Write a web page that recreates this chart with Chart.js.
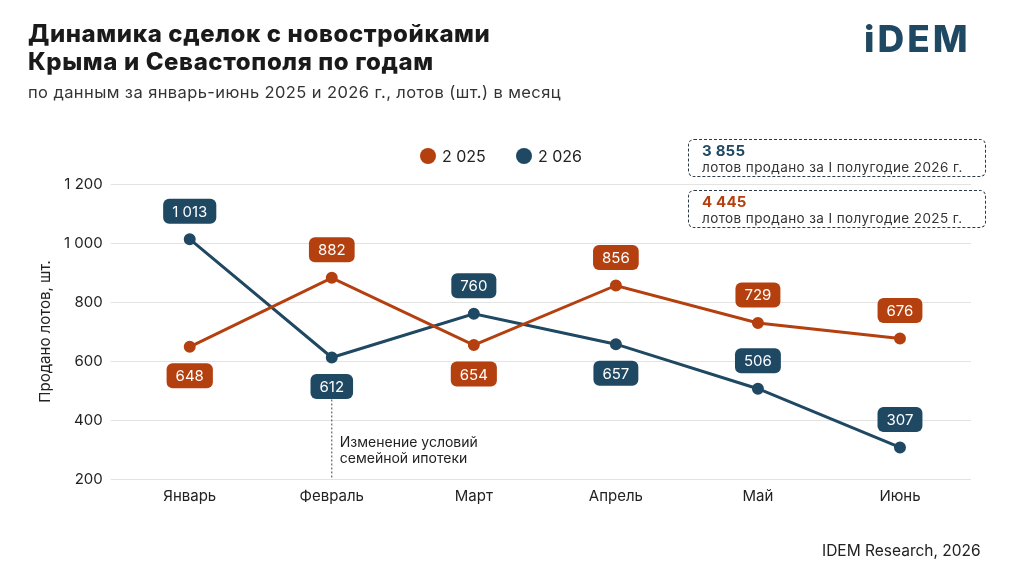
<!DOCTYPE html>
<html>
<head>
<meta charset="utf-8">
<script src="https://cdn.jsdelivr.net/npm/chart.js@4"></script>
<style>
  body { margin: 0; width: 1024px; height: 576px; background: #fff; font-family: Inter, "Noto Sans", sans-serif; position: relative; overflow: hidden; }
  #wrap { position: absolute; left: 0; top: 0; width: 1024px; height: 576px; }
  .t { position: absolute; color: #1a1a1a; white-space: nowrap; }
  .box { position: absolute; left: 688px; width: 298px; height: 38px; border: 1.5px dashed #2b3a45; border-radius: 6px; box-sizing: border-box; padding: 3px 0 0 13px; font-size: 13.5px; letter-spacing: 0.4px; color: #333; line-height: 16px; }
  .box b { font-size: 15px; display: block; letter-spacing: 0.2px; }
  .leg { position: absolute; top: 146px; font-size: 16px; color: #222; }
  .leg i { display: inline-block; width: 16px; height: 16px; border-radius: 50%; vertical-align: -2px; margin-right: 6px; }
</style>
</head>
<body>
<div id="wrap"><canvas id="chart" width="1024" height="576"></canvas></div>
<div class="t" style="left:28px;top:20px;font-size:24px;font-weight:800;line-height:28px;letter-spacing:0.6px;">Динамика сделок с новостройками<br>Крыма и Севастополя по годам</div>
<div class="t" style="left:28px;top:82px;font-size:16.5px;color:#333;letter-spacing:0.4px;">по данным за январь-июнь 2025 и 2026 г., лотов (шт.) в месяц</div>
<div class="t" style="left:864px;top:16px;font-size:37px;font-weight:800;color:#1f4863;letter-spacing:3px;">iDEM</div>
<div class="leg" style="left:420px;"><i style="background:#b5400f"></i>2 025</div>
<div class="leg" style="left:516px;"><i style="background:#1f4863"></i>2 026</div>
<div class="box" style="top:139px;"><b style="color:#1f4863">3 855</b>лотов продано за I полугодие 2026 г.</div>
<div class="box" style="top:190px;"><b style="color:#b5400f">4 445</b>лотов продано за I полугодие 2025 г.</div>
<div class="t" style="left:822px;top:541px;font-size:15.5px;color:#222;">IDEM Research, 2026</div>
<script>
const months = ['Январь', 'Февраль', 'Март', 'Апрель', 'Май', 'Июнь'];
const sales2025 = [648, 882, 654, 856, 729, 676];
const sales2026 = [1013, 612, 760, 657, 506, 307];
const labelPos2025 = ['below', 'above', 'below', 'above', 'above', 'above'];
const labelPos2026 = ['above', 'below', 'above', 'below', 'above', 'above'];
const yTicks = [200, 400, 600, 800, 1000, 1200];

const fmt = v => v.toLocaleString('ru-RU').replace(/\s/g, ' ');

const valueLabels = {
  id: 'valueLabels',
  afterDatasetsDraw(chart) {
    const ctx = chart.ctx;
    const x = chart.scales.x, y = chart.scales.y;
    // dotted marker at February
    const fx = x.getPixelForValue(1);
    const fy = y.getPixelForValue(sales2026[1]);
    ctx.save();
    ctx.strokeStyle = '#444'; ctx.lineWidth = 1; ctx.setLineDash([2, 2]);
    ctx.beginPath(); ctx.moveTo(fx, fy + 42); ctx.lineTo(fx, y.bottom); ctx.stroke();
    ctx.setLineDash([]);
    ctx.fillStyle = '#222'; ctx.font = '14px Inter, sans-serif'; ctx.textAlign = 'left'; ctx.textBaseline = 'alphabetic';
    ctx.fillText('Изменение условий', fx + 8, fy + 90);
    ctx.fillText('семейной ипотеки', fx + 8, fy + 106);
    const sets = [[sales2025, labelPos2025, '#b5400f'], [sales2026, labelPos2026, '#1f4863']];
    ctx.font = '15px Inter, sans-serif'; ctx.textAlign = 'center'; ctx.textBaseline = 'middle';
    sets.forEach(([vals, pos, col]) => {
      vals.forEach((v, i) => {
        const px = x.getPixelForValue(i);
        const py = y.getPixelForValue(v) + (pos[i] === 'above' ? -28 : 29);
        const t = fmt(v);
        const w = ctx.measureText(t).width + 18, h = 25;
        ctx.fillStyle = col;
        ctx.beginPath(); ctx.roundRect(px - w / 2, py - h / 2, w, h, 6); ctx.fill();
        ctx.fillStyle = '#fff'; ctx.fillText(t, px, py + 1);
      });
    });
    ctx.restore();
  }
};

new Chart(document.getElementById('chart'), {
  type: 'line',
  data: {
    labels: months,
    datasets: [
      { label: '2 025', data: sales2025, borderColor: '#b5400f', backgroundColor: '#b5400f', borderWidth: 3, pointRadius: 4.5 },
      { label: '2 026', data: sales2026, borderColor: '#1f4863', backgroundColor: '#1f4863', borderWidth: 3, pointRadius: 4.5 }
    ]
  },
  options: {
    responsive: false,
    animation: false,
    layout: { padding: { top: 184, left: 36, right: 53, bottom: 71 } },
    plugins: { legend: { display: false }, tooltip: { enabled: false } },
    scales: {
      x: {
        offset: true,
        grid: { display: false },
        border: { display: false },
        ticks: { color: '#222', font: { size: 15, family: 'Inter' }, padding: 0 }
      },
      y: {
        min: 200, max: 1200,
        afterBuildTicks: s => { s.ticks = yTicks.map(v => ({ value: v })); },
        grid: { color: '#e3e3e3' },
        border: { display: false },
        title: { display: true, text: 'Продано лотов, шт.', color: '#222', font: { size: 15, family: 'Inter' }, padding: { top: 0, bottom: 2 } },
        ticks: { color: '#222', font: { size: 15, family: 'Inter' }, padding: 8, callback: v => fmt(v) }
      }
    }
  },
  plugins: [valueLabels]
});
</script>
</body>
</html>
